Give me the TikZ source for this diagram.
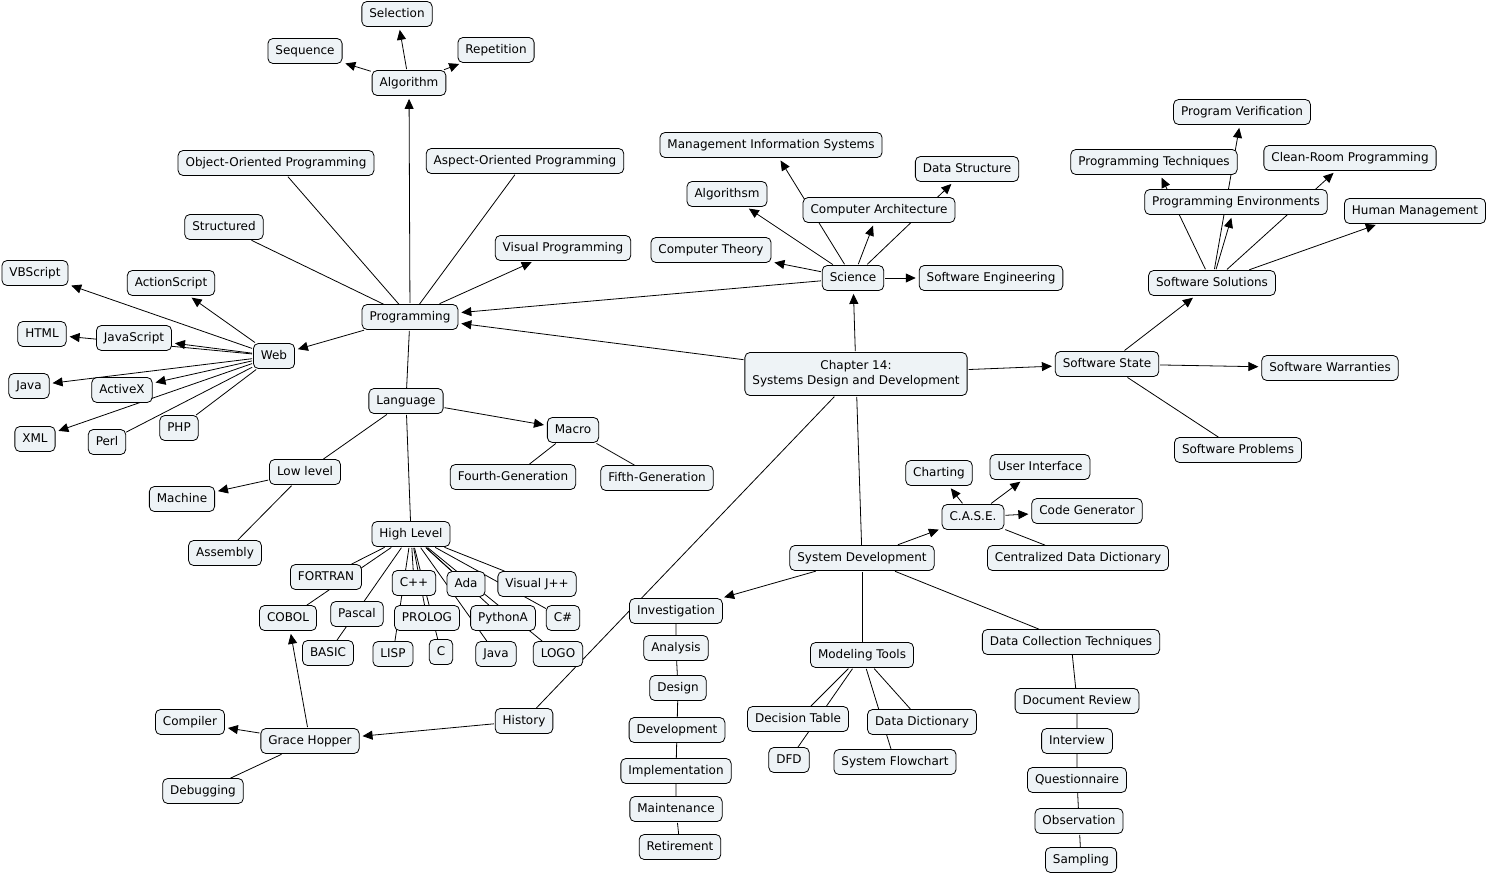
\documentclass[tikz,border=0pt]{standalone}
\usepackage{fontspec}
\newfontfamily\cmapfont{DejaVu Sans}
\usetikzlibrary{arrows.meta,backgrounds}
\definecolor{cmapfill}{HTML}{EEF3F6}
\tikzset{
  concept/.style={draw, rounded corners=5pt, fill=cmapfill, line width=0.8pt,
    inner xsep=7.5pt, inner ysep=0pt, text height=9pt, text depth=2.6pt,
    minimum height=25pt, font=\cmapfont\fontsize{12}{15}\selectfont},
  link/.style={line width=0.8pt, shorten <=1pt},
  arr/.style={link, -{Triangle[length=10pt,width=9pt]}, shorten >=3pt},
}
\begin{document}
\begin{tikzpicture}[x=1pt,y=-1pt]
\useasboundingbox (0,0) rectangle (1487,875);
\node[concept] (alg) at (409,83){Algorithm};
\node[concept] (sel) at (397,14){Selection};
\node[concept] (seq) at (305,51){Sequence};
\node[concept] (rep) at (496,50){Repetition};
\node[concept] (oop) at (276,163){Object-Oriented Programming};
\node[concept] (aop) at (525,161){Aspect-Oriented Programming};
\node[concept] (struct) at (224,227){Structured};
\node[concept] (vis) at (563,248){Visual Programming};
\node[concept] (prog) at (410,317){Programming};
\node[concept] (vbs) at (35,273){VBScript};
\node[concept] (acts) at (171,283){ActionScript};
\node[concept] (html) at (42,334){HTML};
\node[concept] (js) at (134,338){JavaScript};
\node[concept] (web) at (274,356){Web};
\node[concept] (javaw) at (29,386){Java};
\node[concept] (activex) at (122,390){ActiveX};
\node[concept] (xml) at (35,439){XML};
\node[concept] (perl) at (107,442){Perl};
\node[concept] (php) at (179,428){PHP};
\node[concept] (lang) at (406,401){Language};
\node[concept] (macro) at (573,430){Macro};
\node[concept] (low) at (305,472){Low level};
\node[concept] (fourth) at (513,477){Fourth-Generation};
\node[concept] (fifth) at (657,478){Fifth-Generation};
\node[concept] (mach) at (182,499){Machine};
\node[concept] (high) at (411,534){High Level};
\node[concept] (asm) at (225,553){Assembly};
\node[concept] (fortran) at (326,577){FORTRAN};
\node[concept] (cpp) at (414,583){C++};
\node[concept] (ada) at (466,584){Ada};
\node[concept] (vjpp) at (537,584){Visual J++};
\node[concept] (cobol) at (288,618){COBOL};
\node[concept] (pascal) at (357,614){Pascal};
\node[concept] (prolog) at (427,618){PROLOG};
\node[concept] (python) at (503,618){PythonA};
\node[concept] (csharp) at (563,618){C\#};
\node[concept] (basic) at (328,653){BASIC};
\node[concept] (lisp) at (393,654){LISP};
\node[concept] (c) at (441,652){C};
\node[concept] (javah) at (496,654){Java};
\node[concept] (logo) at (558,654){LOGO};
\node[concept] (hopper) at (310,741){Grace Hopper};
\node[concept] (compiler) at (190,722){Compiler};
\node[concept] (debug) at (203,791){Debugging};
\node[concept] (history) at (524,721){History};
\node[concept] (inv) at (676,611){Investigation};
\node[concept] (analysis) at (676,648){Analysis};
\node[concept] (design) at (678,688){Design};
\node[concept] (devel) at (677,730){Development};
\node[concept] (impl) at (676,771){Implementation};
\node[concept] (maint) at (676,809){Maintenance};
\node[concept] (retire) at (680,847){Retirement};
\node[concept] (mis) at (771,145){Management Information Systems};
\node[concept] (ds) at (967,169){Data Structure};
\node[concept] (algs) at (727,194){Algorithsm};
\node[concept] (arch) at (879,210){Computer Architecture};
\node[concept] (theory) at (711,250){Computer Theory};
\node[concept] (sci) at (853,278){Science};
\node[concept] (sweng) at (991,278){Software Engineering};
\node[concept, text height={}, text depth={}, align=center, minimum height=43pt] (chap) at (856,374){Chapter 14:\\Systems Design and Development};
\node[concept] (state) at (1107,364){Software State};
\node[concept] (warr) at (1330,368){Software Warranties};
\node[concept] (probs) at (1238,450){Software Problems};
\node[concept] (sols) at (1212,283){Software Solutions};
\node[concept] (human) at (1415,211){Human Management};
\node[concept] (env) at (1236,202){Programming Environments};
\node[concept] (tech) at (1154,162){Programming Techniques};
\node[concept] (clean) at (1350,158){Clean-Room Programming};
\node[concept] (verif) at (1242,112){Program Verification};
\node[concept] (sysdev) at (862,558){System Development};
\node[concept] (case) at (973,517){C.A.S.E.};
\node[concept] (chart) at (939,473){Charting};
\node[concept] (ui) at (1040,467){User Interface};
\node[concept] (codegen) at (1087,511){Code Generator};
\node[concept] (cdd) at (1078,558){Centralized Data Dictionary};
\node[concept] (dct) at (1071,642){Data Collection Techniques};
\node[concept] (model) at (862,655){Modeling Tools};
\node[concept] (dtable) at (798,719){Decision Table};
\node[concept] (ddict) at (922,722){Data Dictionary};
\node[concept] (dfd) at (789,760){DFD};
\node[concept] (flow) at (895,762){System Flowchart};
\node[concept] (docrev) at (1077,701){Document Review};
\node[concept] (interview) at (1077,741){Interview};
\node[concept] (quest) at (1077,780){Questionnaire};
\node[concept] (observ) at (1079,821){Observation};
\node[concept] (sampling) at (1081,860){Sampling};
\begin{scope}[on background layer]
\fill[white] (0,0) rectangle (1487,875);
\draw[arr](alg) -- (sel);
\draw[arr](alg) -- (seq);
\draw[arr](alg) -- (rep);
\draw[arr](prog) -- (alg);
\draw[link](oop) -- (prog);
\draw[link](struct) -- (prog);
\draw[link](aop) -- (prog);
\draw[arr](prog) -- (vis);
\draw[arr](prog) -- (web);
\draw[link](prog) -- (lang);
\draw[arr](sci) -- (prog);
\draw[arr](chap) -- (prog);
\draw[arr](web) -- (vbs);
\draw[arr](web) -- (acts);
\draw[arr](web) -- (js);
\draw[arr](web) -- (html);
\draw[arr](web) -- (javaw);
\draw[arr](web) -- (activex);
\draw[arr](web) -- (xml);
\draw[link](web) -- (perl);
\draw[link](web) -- (php);
\draw[arr](lang) -- (macro);
\draw[link](lang) -- (low);
\draw[link](lang) -- (high);
\draw[arr](low) -- (mach);
\draw[link](low) -- (asm);
\draw[link](macro) -- (fourth);
\draw[link](macro) -- (fifth);
\foreach \lng in {fortran,cobol,basic,cpp,lisp,prolog,c,ada,javah,python,logo,csharp,vjpp}
  \draw[link](high) -- (\lng);
\draw[arr](history) -- (hopper);
\draw[arr](hopper) -- (cobol);
\draw[arr](hopper) -- (compiler);
\draw[link](hopper) -- (debug);
\draw[link](chap) -- (history);
\draw[arr](chap) -- (sci);
\foreach \sub in {theory,algs,mis,arch,ds,sweng}
  \draw[arr](sci) -- (\sub);
\draw[arr](chap) -- (state);
\draw[arr](state) -- (sols);
\draw[arr](state) -- (warr);
\draw[link](state) -- (probs);
\foreach \sub in {human,env,tech,verif,clean}
  \draw[arr](sols) -- (\sub);
\draw[link](chap) -- (sysdev);
\draw[arr](sysdev) -- (case);
\draw[arr](case) -- (chart);
\draw[arr](case) -- (ui);
\draw[arr](case) -- (codegen);
\draw[link](case) -- (cdd);
\draw[arr](sysdev) -- (inv);
\draw[link](sysdev) -- (model);
\draw[link](sysdev) -- (dct);
\foreach \sub in {dtable,dfd,ddict,flow}
  \draw[link](model) -- (\sub);
\draw[link](inv) -- (analysis) -- (design) -- (devel) -- (impl) -- (maint) -- (retire);
\draw[link](dct) -- (docrev) -- (interview) -- (quest) -- (observ) -- (sampling);
\end{scope}
\end{tikzpicture}
\end{document}
